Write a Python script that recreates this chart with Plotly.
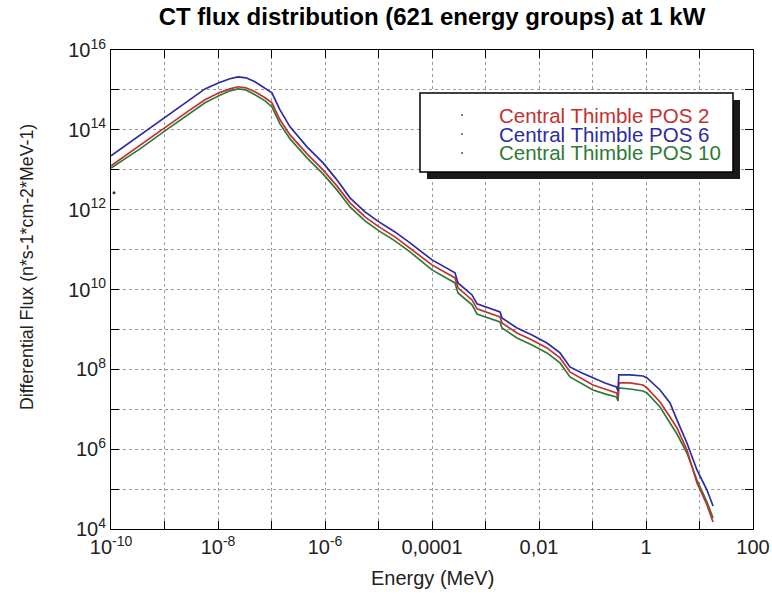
import plotly.graph_objects as go

# Energy groups (MeV)
energy = [1.0e-10, 1.83e-10, 3.48e-10, 1.02e-9, 3.0e-9, 5.71e-9, 1.04e-8, 1.67e-8, 2.37e-8,
          3.33e-8, 4.92e-8, 7.57e-8, 1.02e-7, 1.44e-7, 2.22e-7, 4.61e-7, 9.18e-7, 1.67e-6,
          2.93e-6, 5.6e-6, 1.02e-5, 2.03e-5, 3.88e-5, 1.0e-4, 2.69e-4, 3.06e-4, 5.6e-4,
          6.93e-4, 1.87e-3, 2.03e-3, 3.88e-3, 7.4e-3, 1.41e-2, 2.47e-2, 3.79e-2, 6.37e-2,
          0.102, 0.171, 0.28, 0.30, 0.31, 0.502, 0.879, 1.045, 1.83, 2.81, 3.79, 5.83,
          8.97, 13.8, 17.9]

# Differential flux (n*s-1*cm-2*MeV-1)
flux_pos2 = [1.25e13, 2.23e13, 3.97e13, 1.12e14, 3.17e14, 5.65e14, 8.45e14, 1.06e15, 1.20e15,
             1.13e15, 8.95e14, 6.34e14, 4.75e14, 1.78e14, 7.48e13, 2.50e13, 9.93e12, 3.94e12,
             1.48e12, 6.59e11, 3.71e11, 2.08e11, 1.10e11, 4.13e10, 1.95e10, 1.10e10, 5.48e9,
             3.27e9, 2.06e9, 1.46e9, 8.17e8, 5.46e8, 3.44e8, 1.93e8, 8.61e7, 5.74e7,
             4.06e7, 3.22e7, 2.56e7, 2.03e7, 4.56e7, 4.56e7, 4.06e7, 3.42e7, 1.52e7, 6.41e6,
             3.40e6, 9.55e5, 1.42e5, 3.99e4, 1.50e4]

flux_pos6 = [2.23e13, 3.97e13, 7.48e13, 2.12e14, 5.98e14, 1.06e15, 1.51e15, 1.90e15, 2.13e15,
             2.01e15, 1.60e15, 1.13e15, 8.45e14, 3.17e14, 1.19e14, 3.75e13, 1.49e13, 5.58e12,
             1.98e12, 8.81e11, 4.94e11, 2.77e11, 1.47e11, 5.52e10, 2.61e10, 1.46e10, 7.31e9,
             4.36e9, 2.74e9, 1.94e9, 1.09e9, 7.28e8, 4.58e8, 2.58e8, 1.15e8, 8.11e7,
             6.08e7, 4.56e7, 3.62e7, 2.87e7, 7.23e7, 7.23e7, 6.82e7, 6.08e7, 3.04e7, 1.44e7,
             5.40e6, 1.43e6, 3.01e5, 9.48e4, 3.77e4]

flux_pos10 = [1.11e13, 1.87e13, 3.34e13, 9.44e13, 2.67e14, 4.75e14, 7.11e14, 9.48e14, 1.06e15,
              1.00e15, 7.53e14, 5.33e14, 3.77e14, 1.41e14, 5.94e13, 1.99e13, 7.89e12, 3.13e12,
              1.17e12, 5.24e11, 2.94e11, 1.65e11, 8.75e10, 3.10e10, 1.46e10, 8.22e9, 4.11e9,
              2.44e9, 1.54e9, 1.09e9, 6.12e8, 4.08e8, 2.58e8, 1.45e8, 6.44e7, 4.31e7,
              3.04e7, 2.42e7, 2.03e7, 1.61e7, 3.42e7, 3.22e7, 2.87e7, 2.56e7, 1.14e7, 4.53e6,
              2.40e6, 8.02e5, 1.69e5, 4.74e4, 1.88e4]

# isolated low-energy point
stray_energy = [1.14e-10]
stray_flux = [2.64e12]

series_names = ["Central Thimble POS 2", "Central Thimble POS 6", "Central Thimble POS 10"]
series_colors = ["#c4302f", "#2b2ba6", "#2f7a34"]

x_tickvals = [10.0 ** k for k in range(-10, 3)]
x_ticktext = ["10<sup>-10</sup>", "", "10<sup>-8</sup>", "", "10<sup>-6</sup>", "", "0,0001", "",
              "0,01", "", "1", "", "100"]
y_tickvals = [10.0 ** k for k in range(4, 17)]
y_ticktext = ["10<sup>%d</sup>" % k if k % 2 == 0 else "" for k in range(4, 17)]

FONT = "Liberation Sans, Arial, sans-serif"

fig = go.Figure()
# draw POS 10 first, then POS 2, then POS 6
for flux, name, color in [(flux_pos10, series_names[2], series_colors[2]),
                          (flux_pos2, series_names[0], series_colors[0]),
                          (flux_pos6, series_names[1], series_colors[1])]:
    fig.add_trace(go.Scatter(x=energy, y=flux, mode="lines", name=name,
                             line=dict(color=color, width=1.7), showlegend=False))
fig.add_trace(go.Scatter(x=stray_energy, y=stray_flux, mode="markers",
                         marker=dict(color="#333333", size=3), showlegend=False))

axis_common = dict(showline=True, linecolor="black", linewidth=1, mirror="ticks",
                   ticks="inside", ticklen=8, tickcolor="black", tickwidth=1,
                   showgrid=True, gridcolor="#9a9a9a", griddash="dot", gridwidth=1,
                   zeroline=False, automargin=False,
                   tickfont=dict(family=FONT, size=20, color="#222222"))

fig.update_xaxes(type="log", range=[-10, 2], tickvals=x_tickvals, ticktext=x_ticktext,
                 **axis_common)
fig.update_yaxes(type="log", range=[4, 16], tickvals=y_tickvals, ticktext=y_ticktext,
                 **axis_common)

# legend box drawn as shapes + annotations
def px_x(p):
    return (p - 111) / 642.0

def px_y(p):
    return (529 - p) / 479.0

shapes = [
    dict(type="rect", xref="paper", yref="paper", x0=px_x(427), x1=px_x(740),
         y0=px_y(179), y1=px_y(100), fillcolor="#1a1a1a", line=dict(width=0), layer="above"),
    dict(type="rect", xref="paper", yref="paper", x0=px_x(420), x1=px_x(733),
         y0=px_y(172), y1=px_y(93), fillcolor="white", line=dict(color="black", width=1.5),
         layer="above"),
]
annotations = []
legend_rows = [(series_names[0], series_colors[0], 115),
               (series_names[1], series_colors[1], 134),
               (series_names[2], series_colors[2], 153)]
for name, color, yy in legend_rows:
    shapes.append(dict(type="circle", xref="paper", yref="paper",
                       x0=px_x(461), x1=px_x(463), y0=px_y(yy + 1), y1=px_y(yy - 1),
                       fillcolor="#555555", line=dict(width=0), layer="above"))
    annotations.append(dict(text=name, xref="paper", yref="paper", x=px_x(497), y=px_y(yy),
                            xanchor="left", yanchor="middle", showarrow=False,
                            font=dict(family=FONT, size=20.5, color=color)))

annotations.append(dict(text="Energy (MeV)", xref="paper", yref="paper", x=0.5, y=px_y(578),
                        xanchor="center", yanchor="middle", showarrow=False,
                        font=dict(family=FONT, size=20, color="#222222")))
annotations.append(dict(text="Differential Flux (n*s-1*cm-2*MeV-1)", xref="paper",
                        yref="paper", x=px_x(27), y=px_y(267), xanchor="center",
                        yanchor="middle", textangle=-90, showarrow=False,
                        font=dict(family=FONT, size=17.8, color="#222222")))

fig.update_layout(
    width=772, height=595,
    margin=dict(l=111, r=19, t=50, b=66, autoexpand=False),
    paper_bgcolor="white", plot_bgcolor="white",
    title=dict(text="<b>CT flux distribution (621 energy groups) at 1 kW</b>",
               x=0.5, xref="paper", y=1 - 17 / 595.0, yanchor="middle",
               font=dict(family=FONT, size=24, color="black")),
    shapes=shapes, annotations=annotations, showlegend=False,
)

fig.write_html("out.html")
